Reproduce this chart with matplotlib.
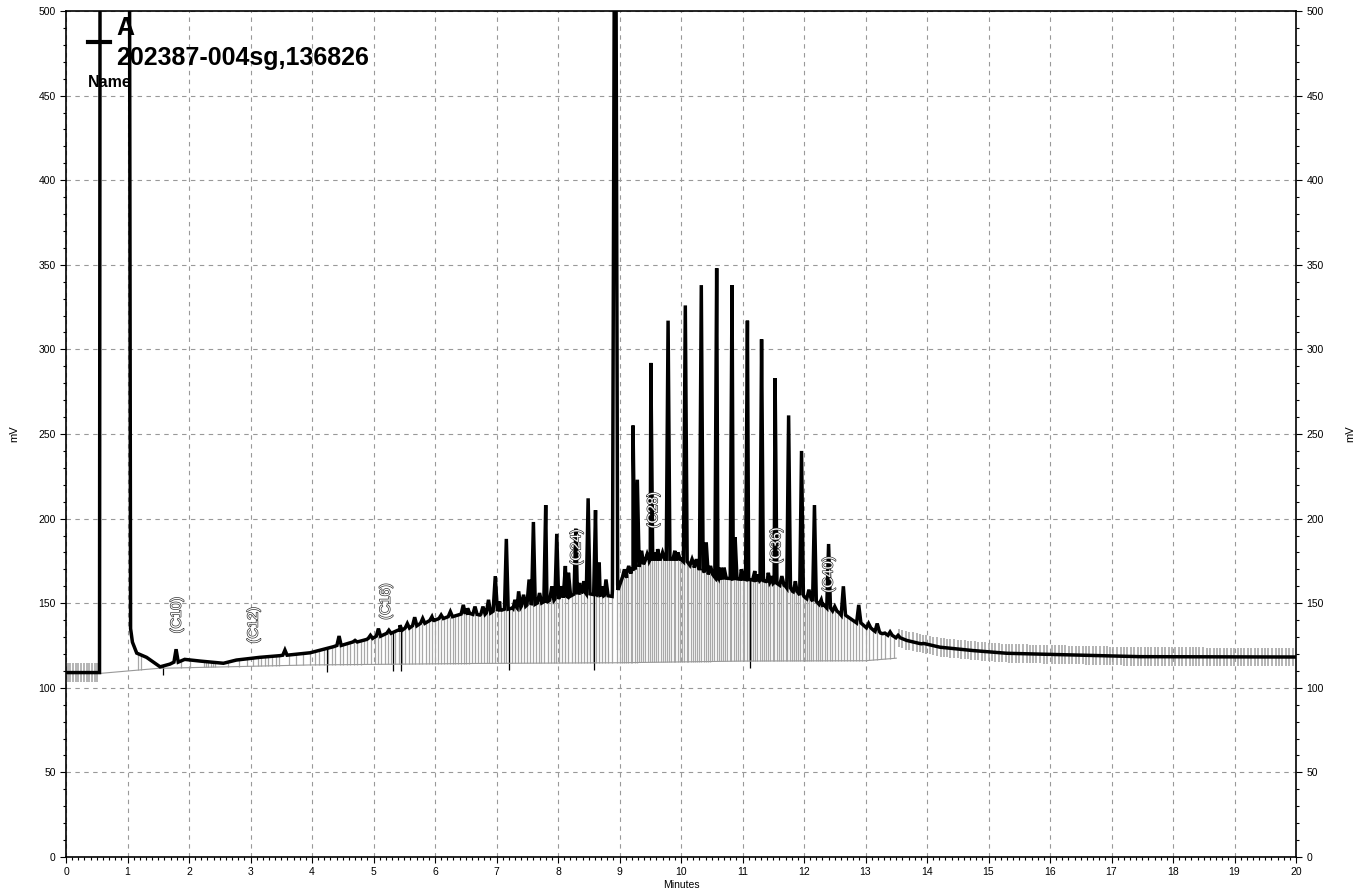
import numpy as np
import matplotlib.pyplot as plt
import matplotlib.patheffects as pe
from matplotlib.ticker import MultipleLocator

plt.rcParams['font.family'] = ['Liberation Sans', 'DejaVu Sans']

# baseline of the trace (minutes, mV)
base_t = [0, 0.545, 0.555, 1.03, 1.05, 1.08, 1.15, 1.31, 1.53, 1.69, 1.93, 2.18,
          2.56, 2.77, 3.15, 3.48, 3.97, 4.35, 4.89, 5.43, 5.97, 6.52, 6.73, 7.06,
          7.27, 7.82, 8.36, 8.63, 8.88, 8.97, 9.22, 9.5, 10.0, 10.3, 10.6, 11.1,
          11.4, 11.7, 12.0, 12.3, 12.58, 13.13, 13.67, 14.21, 14.75, 15.3, 16.4,
          17.46, 20]
base_v = [109, 109, 600, 600, 135, 127, 120.5, 118, 112.4, 114, 116.8, 115.8,
          114.5, 116.4, 118, 119, 120.7, 124.3, 128.6, 134, 140, 144, 143, 146,
          147, 151, 156, 155, 154, 161, 170, 176, 176, 170, 165, 164,
          163, 160, 154, 149, 144, 134, 128, 124, 122, 120.4, 119.4,
          118.4, 118.2]

# peaks: retention time (min), apex (mV)
pk_t = [1.79, 3.56, 4.44, 5.08, 5.43, 5.67, 5.95, 6.46, 6.53, 6.87, 6.98, 7.16,
        7.44, 7.53, 7.60, 7.80, 7.90, 7.98, 8.12, 8.17, 8.29, 8.49, 8.61, 8.67,
        8.78, 8.93, 9.22, 9.29, 9.51, 9.79, 10.07, 10.33, 10.41, 10.58, 10.83,
        10.88, 11.08, 11.31, 11.53, 11.75, 11.96, 12.17, 12.40, 12.64, 12.89,
        13.19, 13.28, 13.53, 13.91,
        9.08, 9.36, 9.45, 9.62, 9.7, 9.9, 10.18, 10.48, 10.7, 10.98, 11.2, 11.42,
        11.64, 11.86, 12.08, 12.28,
        4.7, 4.95, 5.25, 5.55, 5.8, 6.1, 6.25, 6.65, 6.78, 7.05, 7.3, 7.36, 7.7,
        8.05, 8.35, 8.42, 8.72, 9.15, 9.58, 9.95, 10.25, 10.65, 11.0, 11.25,
        11.48, 11.85, 12.5, 13.05, 13.4]
pk_v = [122.8, 122.3, 130.6, 135, 137, 141.7, 142, 149, 147, 152, 166, 188,
        155, 164, 198, 208, 160, 191, 172, 168, 194, 212, 205, 174,
        164, 700, 255, 223, 292, 317, 326, 338, 186, 348, 338,
        189, 317, 306, 283, 261, 240, 208, 185, 160, 149,
        138, 132, 131, 126,
        170, 181, 179, 182, 180, 181, 176, 172, 171, 170, 169, 168,
        166, 163, 158, 152,
        128, 131, 134, 138, 141, 143, 145, 148, 148, 151, 152, 157, 156,
        160, 162, 163, 160, 172, 180, 180, 176, 171, 168, 167,
        166, 161, 148, 138, 133]
pk_w = [0.045 if v > 500 else (0.03 if v > 180 else 0.035) for v in pk_v]

# integration event marks
ev_tall = [1.17, 1.22, 1.58, 1.87, 2.02, 2.24, 2.27, 2.31, 2.35, 2.39, 2.43, 2.63,
           2.81, 2.95, 3.04, 3.12, 3.17, 3.23, 3.29, 3.35, 3.41, 3.47, 3.62, 3.74,
           3.86, 3.97, 4.05, 4.12, 4.2, 4.26, 4.33, 4.38, 4.45, 4.51, 4.57, 4.62,
           4.68, 4.73, 4.79, 4.85, 4.9, 4.96, 5.02, 5.07, 5.12, 5.18, 5.24, 5.29,
           5.35, 5.41, 5.46, 5.52, 5.57, 5.63, 5.68, 5.74, 5.79, 5.85, 5.9, 5.95,
           6.0, 6.05, 6.1, 6.15, 6.2, 6.24, 6.29, 6.33, 6.38, 6.42, 6.47, 6.51,
           6.56, 6.6, 6.65, 6.7, 6.74, 6.79, 6.84, 6.88, 6.93, 6.97, 7.02, 7.07,
           7.12, 7.16, 7.21, 7.26, 7.3, 7.35, 7.4, 7.45, 7.5, 7.54, 7.59, 7.64,
           7.69, 7.73, 7.78, 7.83, 7.88, 7.93, 7.97, 8.02, 8.07, 8.12, 8.17, 8.22,
           8.27, 8.32, 8.37, 8.42, 8.47, 8.52, 8.57, 8.62, 8.67, 8.72, 8.77, 8.82,
           8.87, 8.96, 9.0, 9.04, 9.07, 9.11, 9.14, 9.18, 9.21, 9.25, 9.28, 9.32,
           9.35, 9.39, 9.42, 9.46, 9.49, 9.53, 9.56, 9.6, 9.63, 9.67, 9.7, 9.74,
           9.77, 9.81, 9.84, 9.88, 9.91, 9.95, 9.98, 10.02, 10.05, 10.09, 10.12,
           10.16, 10.19, 10.23, 10.26, 10.3, 10.33, 10.37, 10.4, 10.44, 10.47,
           10.51, 10.54, 10.58, 10.61, 10.65, 10.68, 10.72, 10.75, 10.79, 10.82,
           10.86, 10.89, 10.93, 10.96, 11.0, 11.03, 11.07, 11.1, 11.14, 11.17,
           11.21, 11.24, 11.28, 11.31, 11.35, 11.38, 11.42, 11.45, 11.49, 11.52,
           11.56, 11.59, 11.63, 11.66, 11.7, 11.73, 11.77, 11.8, 11.84, 11.87,
           11.91, 11.94, 11.98, 12.01, 12.05, 12.08, 12.12, 12.15, 12.19, 12.22,
           12.26, 12.3, 12.34, 12.38, 12.42, 12.46, 12.5, 12.55, 12.6, 12.65,
           12.7, 12.75, 12.8, 12.85, 12.9, 12.95, 13.0, 13.06, 13.12, 13.18,
           13.25, 13.32, 13.4, 13.47]
ev_short = [0.03, 0.07, 0.12, 0.16, 0.2, 0.25, 0.29, 0.34, 0.38, 0.43, 0.47, 0.51,
            13.55, 13.6, 13.66, 13.71, 13.77, 13.83, 13.88, 13.94, 13.99, 14.05,
            14.1, 14.16, 14.22, 14.27, 14.33, 14.38, 14.44, 14.5, 14.55, 14.61,
            14.66, 14.72, 14.78, 14.83, 14.89, 14.94, 15.0, 15.06, 15.11, 15.17,
            15.22, 15.28, 15.34, 15.39, 15.45, 15.5, 15.56, 15.62, 15.67, 15.73,
            15.78, 15.84, 15.9, 15.95, 16.03, 16.08, 16.14, 16.19, 16.25, 16.31,
            16.36, 16.42, 16.47, 16.53, 16.59, 16.64, 16.7, 16.75, 16.81, 16.87,
            16.92, 16.98, 17.03, 17.09, 17.15, 17.2, 17.26, 17.31, 17.37, 17.43,
            17.48, 17.54, 17.59, 17.65, 17.71, 17.76, 17.82, 17.87, 17.93, 17.99,
            18.04, 18.1, 18.15, 18.21, 18.27, 18.32, 18.38, 18.43, 18.49, 18.55,
            18.6, 18.66, 18.71, 18.77, 18.83, 18.88, 18.94, 18.99, 19.05, 19.11,
            19.16, 19.22, 19.27, 19.33, 19.39, 19.44, 19.5, 19.55, 19.61, 19.67,
            19.72, 19.78, 19.83, 19.89, 19.95]
ev_dark = [1.58, 4.25, 5.32, 5.45, 7.2, 8.59, 11.12]

# thin integration baseline
gb_t = [0, 0.55, 1.5, 3.97, 6.7, 9.0, 11.0, 13.0, 13.5]
gb_v = [108.5, 108.5, 111.5, 113.5, 114.4, 114.8, 115.8, 116.0, 117.5]

# peak labels
lab_txt = ['(C10)', '(C12)', '(C16)', '(C24)', '(C28)', '(C36)', '(C40)']
lab_t = [1.8, 3.05, 5.2, 8.3, 9.55, 11.55, 12.4]
lab_v = [143, 137, 151, 183, 205, 184, 167]

# build trace: baseline knots plus triangular peaks
tr_t = list(base_t)
tr_v = list(base_v)
for t, v, w in zip(pk_t, pk_v, pk_w):
    b = np.interp(t, base_t, base_v)
    tr_t += [t - w, t, t + w]
    tr_v += [b, v, b]
order = np.argsort(tr_t, kind='stable')
tr_t = np.array(tr_t)[order]
tr_v = np.array(tr_v)[order]

fig = plt.figure(figsize=(13.65, 8.96), dpi=100)
ax = fig.add_axes([66 / 1365, 39 / 896, 1230 / 1365, 846 / 896])

ax.grid(True, color='#999999', linestyle=(0, (4, 4)), linewidth=0.8)

gb_tall = np.interp(ev_tall, gb_t, gb_v)
top_tall = np.interp(ev_tall, base_t, base_v)
ax.vlines(ev_tall, gb_tall, top_tall, color='#a8a8a8', linewidth=0.9)
mid_short = np.interp(ev_short, base_t, base_v)
ax.vlines(ev_short, mid_short - 5.5, mid_short + 5.5, color='#a0a0a0', linewidth=1.1)
ax.vlines(ev_dark, np.interp(ev_dark, gb_t, gb_v) - 4, np.interp(ev_dark, base_t, base_v),
          color='black', linewidth=0.9)
ax.plot(gb_t, gb_v, color='#999999', linewidth=0.8)

ax.plot(tr_t, tr_v, color='black', linewidth=2.5, solid_joinstyle='miter')

for s, t, v in zip(lab_txt, lab_t, lab_v):
    ax.text(t, v, s, rotation=90, ha='center', va='center', fontsize=10.5,
            color='white',
            path_effects=[pe.withStroke(linewidth=0.9, foreground='#222222')])

ax.set_xlim(0, 20)
ax.set_ylim(0, 500)
ax.xaxis.set_major_locator(MultipleLocator(1))
ax.xaxis.set_minor_locator(MultipleLocator(0.1))
ax.yaxis.set_major_locator(MultipleLocator(50))
ax.yaxis.set_minor_locator(MultipleLocator(10))
ax.tick_params(which='both', direction='out', labelsize=7.5, colors='black',
               left=True, right=True, labelright=True)
ax.tick_params(which='major', length=4, width=0.8)
ax.tick_params(which='minor', length=2.5, width=0.8)
for sp in ax.spines.values():
    sp.set_linewidth(1.2)

ax.set_xlabel('Minutes', fontsize=7.5, labelpad=2)
fig.text(14 / 1365, 1 - 434 / 896, 'mV', rotation=90, fontsize=8,
         ha='center', va='center')
fig.text(1350 / 1365, 1 - 434 / 896, 'mV', rotation=90, fontsize=8,
         ha='center', va='center')

# legend
ax.plot([0.0179, 0.0358], [0.9634, 0.9634], color='black', linewidth=3,
        transform=ax.transAxes, clip_on=False)
ax.text(0.0407, 0.980, 'A', transform=ax.transAxes, fontsize=18,
        fontweight='bold', va='center', ha='left')
ax.text(0.0407, 0.944, '202387-004sg,136826', transform=ax.transAxes,
        fontsize=18, fontweight='bold', va='center', ha='left')
ax.text(0.0179, 0.915, 'Name', transform=ax.transAxes, fontsize=11.5,
        fontweight='bold', va='center', ha='left')

fig.savefig('out.png', dpi=100)
